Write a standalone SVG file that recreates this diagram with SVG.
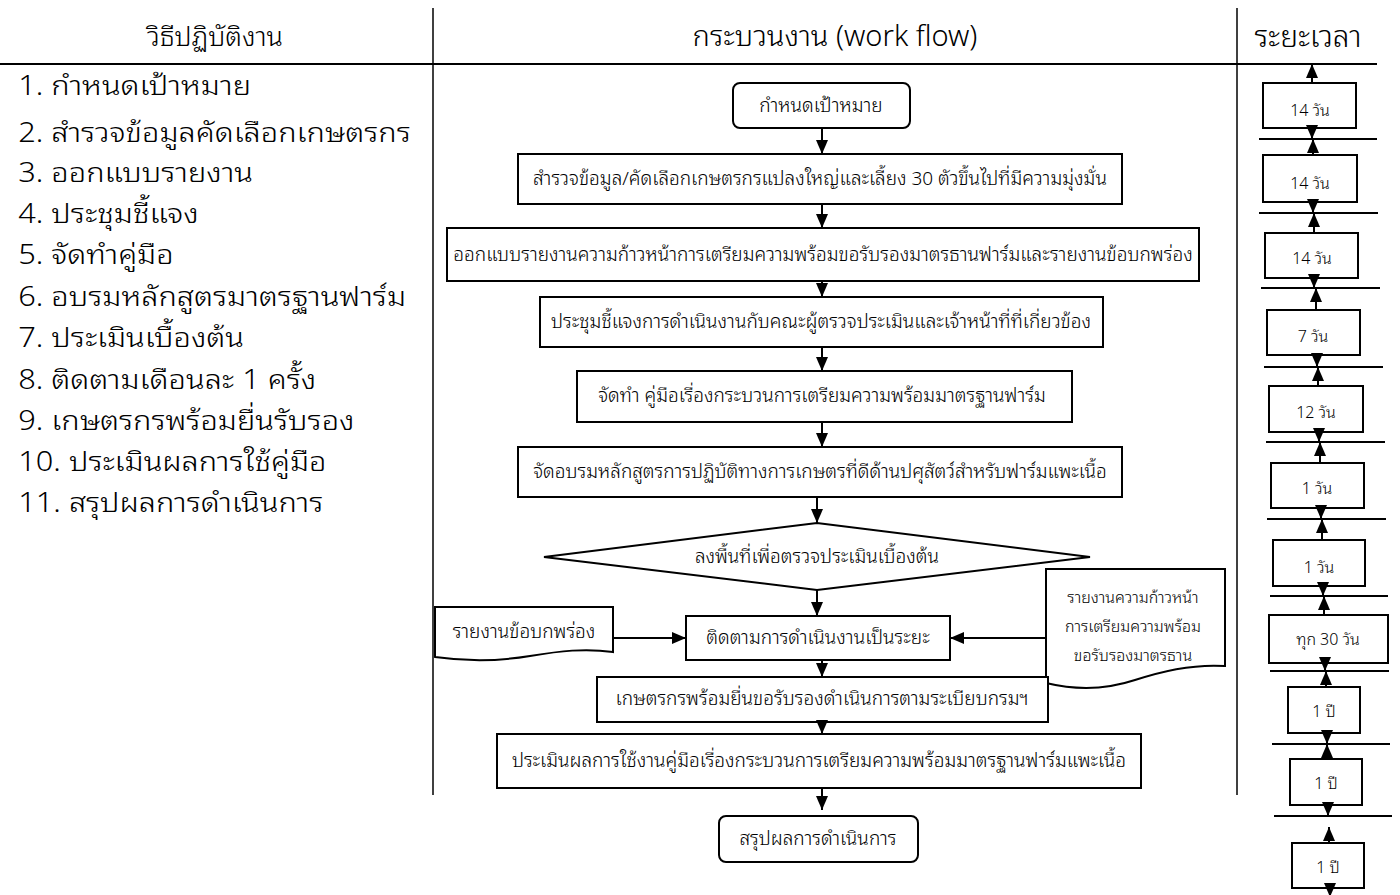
<svg xmlns="http://www.w3.org/2000/svg" width="1400" height="895" viewBox="0 0 1400 895">
<defs>
<marker id="ah" markerWidth="14" markerHeight="12" refX="14" refY="6" orient="auto" markerUnits="userSpaceOnUse">
<path d="M0,0 L14,6 L0,12 Z" fill="#000"/>
</marker>
</defs>
<style>
text{font-family:"Noto Sans Thai Looped","Noto Sans Thai","Noto Sans","DejaVu Sans",sans-serif;fill:#000;font-weight:300}
.hd{font-size:27px;text-anchor:middle}
.li{font-size:27px}
.bx{fill:#fff;stroke:#000;stroke-width:2}
.t{font-size:19px;text-anchor:middle}
.d{font-size:16px;text-anchor:middle}
.tm{font-size:16px;text-anchor:middle}
.cn{stroke:#000;stroke-width:2;fill:none;marker-end:url(#ah)}
.rl{stroke:#000;stroke-width:2}
.dv{stroke:#000;stroke-width:1.5}
</style>
<rect width="1400" height="895" fill="#fff"/>

<g id="header">
<line class="dv" x1="433" y1="8" x2="433" y2="795"/>
<line class="dv" x1="1237" y1="8" x2="1237" y2="795"/>
<line class="rl" x1="0" y1="64" x2="1377" y2="64"/>
<text class="hd" x="215" y="46">วิธีปฏิบัติงาน</text>
<text class="hd" x="835" y="46" style="font-size:29px">กระบวนงาน (work flow)</text>
<text class="hd" x="1308" y="47" style="font-size:30px">ระยะเวลา</text>
</g>

<g id="steps" transform="scale(1.14,1)">
<text class="li" x="16" y="95">1. กำหนดเป้าหมาย</text>
<text class="li" x="16" y="142">2. สำรวจข้อมูลคัดเลือกเกษตรกร</text>
<text class="li" x="16" y="182">3. ออกแบบรายงาน</text>
<text class="li" x="16" y="223">4. ประชุมชี้แจง</text>
<text class="li" x="16" y="264">5. จัดทำคู่มือ</text>
<text class="li" x="16" y="306">6. อบรมหลักสูตรมาตรฐานฟาร์ม</text>
<text class="li" x="16" y="347">7. ประเมินเบื้องต้น</text>
<text class="li" x="16" y="389">8. ติดตามเดือนละ 1 ครั้ง</text>
<text class="li" x="16" y="430">9. เกษตรกรพร้อมยื่นรับรอง</text>
<text class="li" x="16" y="471">10. ประเมินผลการใช้คู่มือ</text>
<text class="li" x="16" y="512">11. สรุปผลการดำเนินการ</text>
</g>

<g id="n1"><rect class="bx" x="733" y="83" width="177" height="45" rx="7"/><text class="t" x="821" y="112">กำหนดเป้าหมาย</text></g>
<g id="n2"><rect class="bx" x="518" y="154" width="604" height="50"/><text class="t" x="820" y="185">สำรวจข้อมูล/คัดเลือกเกษตรกรแปลงใหญ่และเลี้ยง 30 ตัวขึ้นไปที่มีความมุ่งมั่น</text></g>
<g id="n3"><rect class="bx" x="447" y="228" width="752" height="53"/><text class="t" x="823" y="261">ออกแบบรายงานความก้าวหน้าการเตรียมความพร้อมขอรับรองมาตรธานฟาร์มและรายงานข้อบกพร่อง</text></g>
<g id="n4"><rect class="bx" x="540" y="297" width="563" height="50"/><text class="t" x="821" y="328">ประชุมชี้แจงการดำเนินงานกับคณะผู้ตรวจประเมินและเจ้าหน้าที่ที่เกี่ยวข้อง</text></g>
<g id="n5"><rect class="bx" x="577" y="371" width="495" height="51"/><text class="t" x="822" y="402">จัดทำ คู่มือเรื่องกระบวนการเตรียมความพร้อมมาตรฐานฟาร์ม</text></g>
<g id="n6"><rect class="bx" x="518" y="447" width="604" height="50"/><text class="t" x="820" y="478">จัดอบรมหลักสูตรการปฏิบัติทางการเกษตรที่ดีด้านปศุสัตว์สำหรับฟาร์มแพะเนื้อ</text></g>
<g id="n7"><path class="bx" d="M544,557 L817,523 L1090,557 L817,590 Z"/><text class="t" x="817" y="563">ลงพื้นที่เพื่อตรวจประเมินเบื้องต้น</text></g>
<g id="n8"><rect class="bx" x="686" y="616" width="264" height="44"/><text class="t" x="818" y="644">ติดตามการดำเนินงานเป็นระยะ</text></g>
<g id="n9"><path class="bx" d="M435,607 H613 V652 C585,648 560,651 530,656 C500,661 470,662 435,657 Z"/><text class="t" x="524" y="638">รายงานข้อบกพร่อง</text></g>
<g id="n10"><path class="bx" d="M1046,569 H1225 V666 C1195,664 1165,670 1135,680 C1105,690 1075,690 1046,683 Z"/>
<text class="d" x="1133" y="603">รายงานความก้าวหน้า</text>
<text class="d" x="1133" y="632">การเตรียมความพร้อม</text>
<text class="d" x="1133" y="661">ขอรับรองมาตรธาน</text></g>
<g id="n11"><rect class="bx" x="597" y="677" width="451" height="45"/><text class="t" x="822" y="705">เกษตรกรพร้อมยื่นขอรับรองดำเนินการตามระเบียบกรมฯ</text></g>
<g id="n12"><rect class="bx" x="497" y="734" width="644" height="54"/><text class="t" x="819" y="767">ประเมินผลการใช้งานคู่มือเรื่องกระบวนการเตรียมความพร้อมมาตรฐานฟาร์มแพะเนื้อ</text></g>
<g id="n13"><rect class="bx" x="719" y="816" width="199" height="46" rx="7"/><text class="t" x="818" y="845">สรุปผลการดำเนินการ</text></g>

<g id="connectors">
<line class="cn" x1="822" y1="128" x2="822" y2="154"/>
<line class="cn" x1="822" y1="204" x2="822" y2="228"/>
<line class="cn" x1="822" y1="281" x2="822" y2="297"/>
<line class="cn" x1="822" y1="347" x2="822" y2="371"/>
<line class="cn" x1="822" y1="422" x2="822" y2="447"/>
<line class="cn" x1="817" y1="497" x2="817" y2="523"/>
<line class="cn" x1="817" y1="590" x2="817" y2="616"/>
<line class="cn" x1="613" y1="638" x2="686" y2="638"/>
<line class="cn" x1="1046" y1="638" x2="950" y2="638"/>
<line class="cn" x1="822" y1="660" x2="822" y2="677"/>
<line class="cn" x1="822" y1="722" x2="822" y2="734"/>
<line class="cn" x1="822" y1="788" x2="822" y2="810"/>
</g>

<g id="timeline">
<line class="rl" x1="1252" y1="64" x2="1377" y2="64"/>
<line class="rl" x1="1259" y1="139" x2="1377" y2="139"/>
<line class="rl" x1="1259" y1="213" x2="1378" y2="213"/>
<line class="rl" x1="1261" y1="288" x2="1380" y2="288"/>
<line class="rl" x1="1264" y1="367" x2="1383" y2="367"/>
<line class="rl" x1="1266" y1="442" x2="1385" y2="442"/>
<line class="rl" x1="1267" y1="519" x2="1386" y2="519"/>
<line class="rl" x1="1270" y1="596" x2="1388" y2="596"/>
<line class="rl" x1="1270" y1="671" x2="1389" y2="671"/>
<line class="rl" x1="1272" y1="744" x2="1390" y2="744"/>
<line class="rl" x1="1274" y1="816" x2="1392" y2="816"/>
</g>

<g id="t1"><rect class="bx" x="1263" y="83" width="93" height="45"/><text class="tm" x="1310" y="116">14 วัน</text></g>
<g id="t2"><rect class="bx" x="1263" y="155" width="94" height="47"/><text class="tm" x="1310" y="189">14 วัน</text></g>
<g id="t3"><rect class="bx" x="1265" y="233" width="93" height="45"/><text class="tm" x="1312" y="264">14 วัน</text></g>
<g id="t4"><rect class="bx" x="1267" y="310" width="93" height="45"/><text class="tm" x="1313" y="342">7 วัน</text></g>
<g id="t5"><rect class="bx" x="1269" y="386" width="94" height="46"/><text class="tm" x="1316" y="418">12 วัน</text></g>
<g id="t6"><rect class="bx" x="1271" y="463" width="93" height="45"/><text class="tm" x="1317" y="494">1 วัน</text></g>
<g id="t7"><rect class="bx" x="1273" y="540" width="92" height="46"/><text class="tm" x="1319" y="573">1 วัน</text></g>
<g id="t8"><rect class="bx" x="1269" y="615" width="119" height="48"/><text class="tm" x="1328" y="645">ทุก 30 วัน</text></g>
<g id="t9"><rect class="bx" x="1288" y="687" width="72" height="46"/><text class="tm" x="1324" y="717">1 ปี</text></g>
<g id="t10"><rect class="bx" x="1290" y="759" width="72" height="46"/><text class="tm" x="1326" y="789">1 ปี</text></g>
<g id="t11"><rect class="bx" x="1292" y="843" width="72" height="45"/><text class="tm" x="1328" y="873">1 ปี</text></g>

<g id="time-arrows">
<line class="cn" x1="1312" y1="83" x2="1312" y2="64"/>
<line class="cn" x1="1312" y1="128" x2="1312" y2="139"/>
<line class="cn" x1="1313" y1="155" x2="1313" y2="139"/>
<line class="cn" x1="1313" y1="202" x2="1313" y2="213"/>
<line class="cn" x1="1314" y1="233" x2="1314" y2="213"/>
<line class="cn" x1="1314" y1="278" x2="1314" y2="288"/>
<line class="cn" x1="1316" y1="310" x2="1316" y2="288"/>
<line class="cn" x1="1317" y1="355" x2="1317" y2="367"/>
<line class="cn" x1="1318" y1="386" x2="1318" y2="367"/>
<line class="cn" x1="1319" y1="432" x2="1319" y2="442"/>
<line class="cn" x1="1320" y1="463" x2="1320" y2="442"/>
<line class="cn" x1="1321" y1="508" x2="1321" y2="519"/>
<line class="cn" x1="1322" y1="540" x2="1322" y2="519"/>
<line class="cn" x1="1323" y1="586" x2="1323" y2="596"/>
<line class="cn" x1="1324" y1="615" x2="1324" y2="596"/>
<line class="cn" x1="1325" y1="663" x2="1325" y2="671"/>
<line class="cn" x1="1326" y1="687" x2="1326" y2="671"/>
<line class="cn" x1="1327" y1="733" x2="1327" y2="744"/>
<line class="cn" x1="1327" y1="759" x2="1327" y2="744"/>
<line class="cn" x1="1328" y1="805" x2="1328" y2="816"/>
<line class="cn" x1="1329" y1="843" x2="1329" y2="827"/>
<line class="cn" x1="1330" y1="888" x2="1330" y2="897"/>
</g>
</svg>
